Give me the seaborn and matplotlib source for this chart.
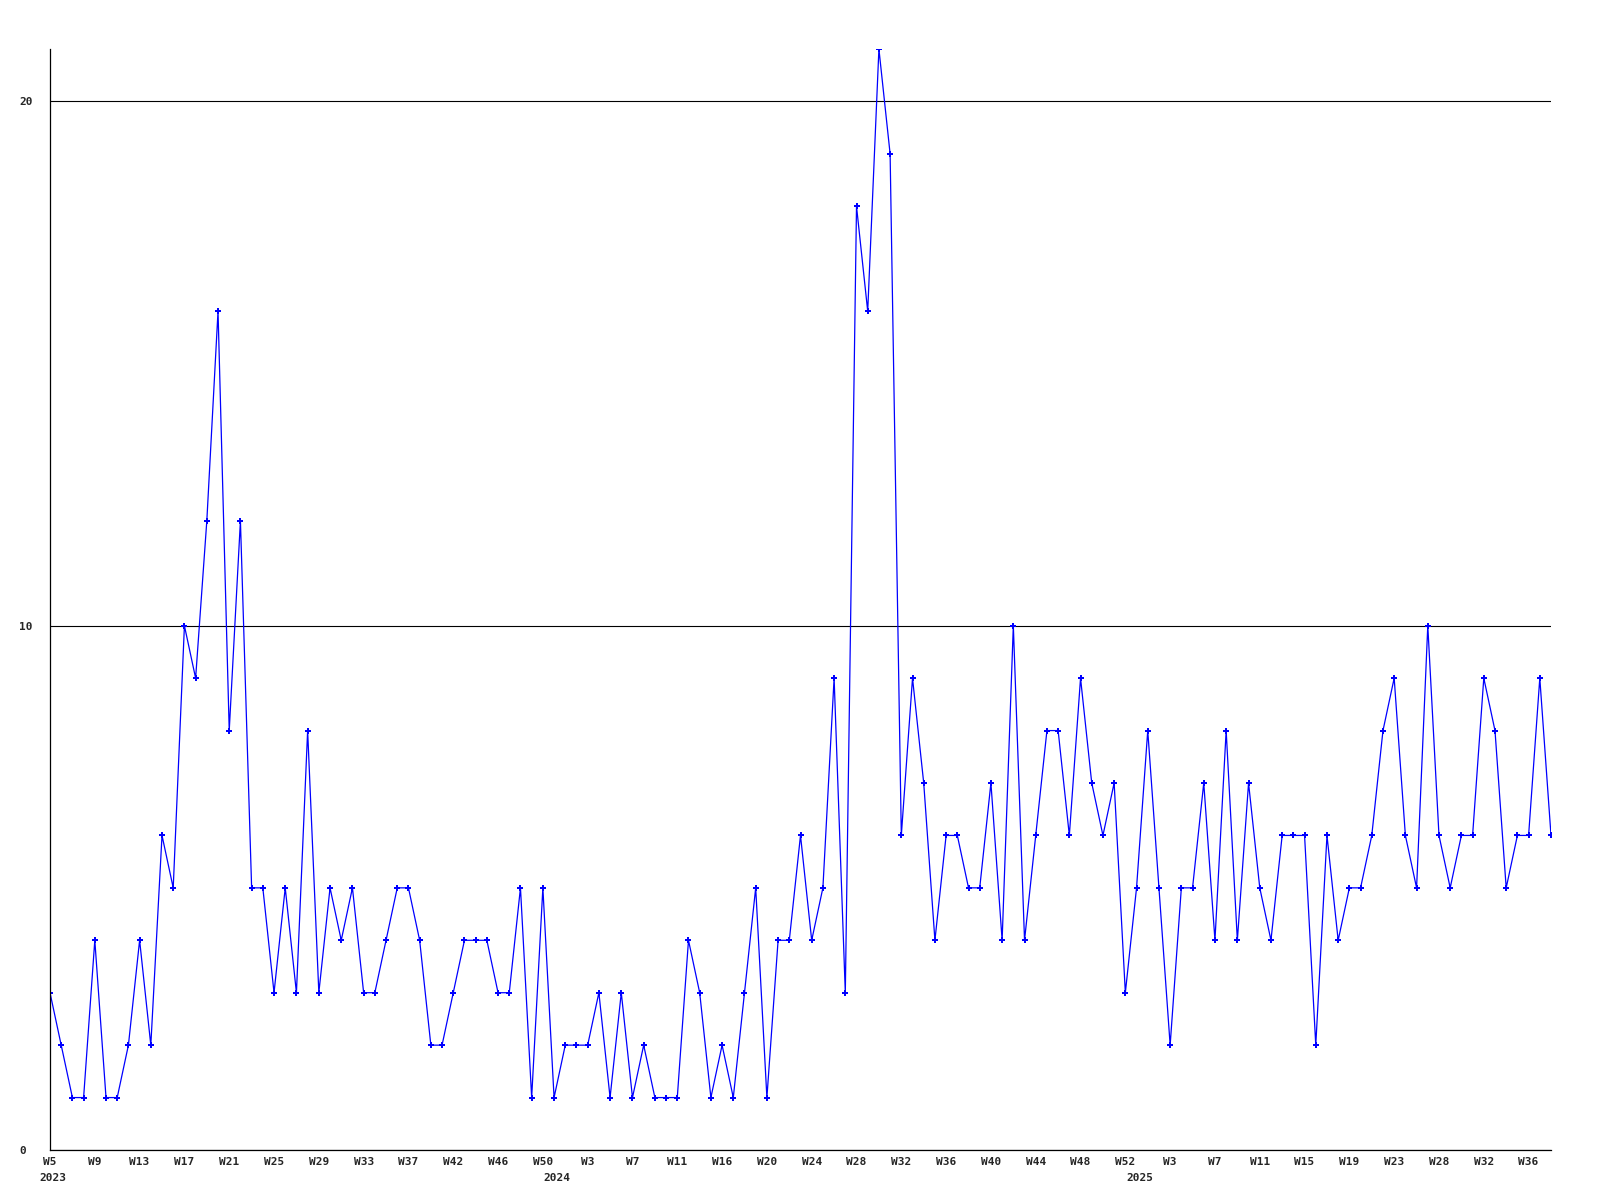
import matplotlib
matplotlib.use("Agg")
import matplotlib.pyplot as plt
import seaborn as sns
import pandas as pd

# ---- data ----
week_tick_labels = ["W5", "W9", "W13", "W17", "W21", "W25", "W29", "W33", "W37", "W42",
                    "W46", "W50", "W3", "W7", "W11", "W16", "W20", "W24", "W28", "W32",
                    "W36", "W40", "W44", "W48", "W52", "W3", "W7", "W11", "W15", "W19",
                    "W23", "W28", "W32", "W36"]
year_labels = ["2023", "2024", "2025"]
year_start_index = [0, 45, 97]

values = [
    3, 2, 1, 1, 4, 1, 1, 2, 4, 2,
    6, 5, 10, 9, 12, 16, 8, 12, 5, 5,
    3, 5, 3, 8, 3, 5, 4, 5, 3, 3,
    4, 5, 5, 4, 2, 2, 3, 4, 4, 4,
    3, 3, 5, 1, 5, 1, 2, 2, 2, 3,
    1, 3, 1, 2, 1, 1, 1, 4, 3, 1,
    2, 1, 3, 5, 1, 4, 4, 6, 4, 5,
    9, 3, 18, 16, 21, 19, 6, 9, 7, 4,
    6, 6, 5, 5, 7, 4, 10, 4, 6, 8,
    8, 6, 9, 7, 6, 7, 3, 5, 8, 5,
    2, 5, 5, 7, 4, 8, 4, 7, 5, 4,
    6, 6, 6, 2, 6, 4, 5, 5, 6, 8,
    9, 6, 5, 10, 6, 5, 6, 6, 9, 8,
    5, 6, 6, 9, 6,
]
y_ticks = [0, 10, 20]
tick_step = 4

# ---- plotting ----
sns.set_style("white")
plt.rcParams["font.family"] = ["DejaVu Sans Mono", "DejaVu Sans"]
plt.rcParams["font.weight"] = "bold"

fig = plt.figure(figsize=(16, 12), dpi=100)
fig.patch.set_facecolor("white")
ax = fig.add_axes([50 / 1600, 50 / 1200, 1501 / 1600, 1101 / 1200])

df = pd.DataFrame({"idx": list(range(len(values))), "count": values})
sns.lineplot(data=df, x="idx", y="count", ax=ax, estimator=None,
             color="#0000ff", linewidth=0.9, marker="P", markersize=4,
             markeredgewidth=0, markerfacecolor="#0000ff")

ax.set_xlim(0, len(values) - 1)
ax.set_ylim(0, max(values))
ax.set_xlabel("")
ax.set_ylabel("")

ax.set_yticks(y_ticks)
ax.set_yticklabels([str(v) for v in y_ticks], fontsize=8, fontweight="bold")
for lab in ax.get_yticklabels():
    lab.set_horizontalalignment("left")
ax.tick_params(axis="y", length=0, pad=22)

xt = list(range(0, len(values), tick_step))[:len(week_tick_labels)]
ax.set_xticks(xt)
ax.set_xticklabels(week_tick_labels, fontsize=8, fontweight="bold")
ax.tick_params(axis="x", length=0, pad=5)

ax.yaxis.grid(True, color="black", linewidth=0.8)
ax.xaxis.grid(False)
ax.set_axisbelow(True)

for side in ["top", "right"]:
    ax.spines[side].set_visible(False)
for side in ["left", "bottom"]:
    ax.spines[side].set_color("black")
    ax.spines[side].set_linewidth(0.9)

for yl, yi in zip(year_labels, year_start_index):
    ax.annotate(yl, xy=(yi, 0), xycoords=("data", "axes fraction"),
                xytext=(-7.5, -16.5), textcoords="offset points",
                ha="left", va="top", fontsize=8, fontweight="bold")

fig.savefig("out.png", dpi=100, facecolor="white")
